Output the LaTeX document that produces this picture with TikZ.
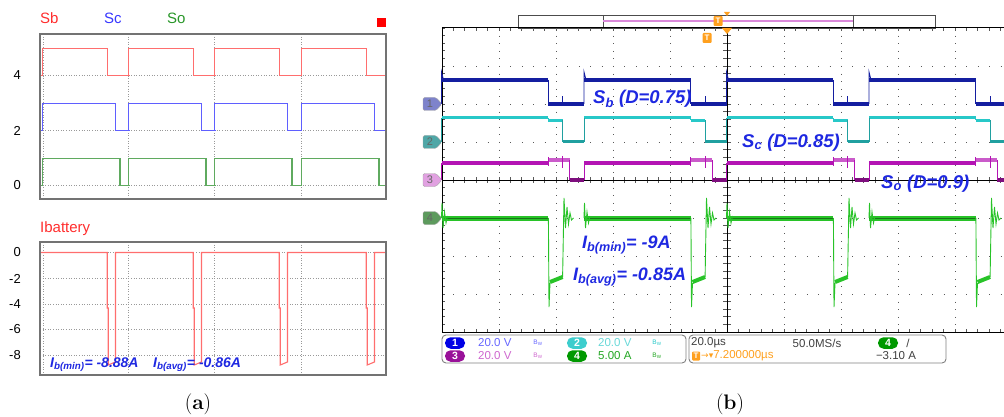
\documentclass[tikz,border=0pt]{standalone}
\usepackage{fontspec}
\newfontfamily\plotfont{Liberation Sans}
\newfontfamily\symfont{DejaVu Sans}

\definecolor{sbred}{RGB}{255,110,110}
\definecolor{scblue}{RGB}{95,95,255}
\definecolor{sogreen}{RGB}{95,170,95}
\definecolor{labred}{RGB}{255,45,45}
\definecolor{labblue}{RGB}{55,55,255}
\definecolor{labgreen}{RGB}{40,150,40}
\definecolor{noteblue}{RGB}{30,40,225}
\definecolor{chone}{RGB}{20,30,160}
\definecolor{chtwo}{RGB}{40,200,200}
\definecolor{chthree}{RGB}{180,20,180}
\definecolor{chfour}{RGB}{40,195,40}
\definecolor{trigorange}{RGB}{255,160,30}

\begin{document}
\begin{tikzpicture}[x=1pt, y=-1pt,
    framebox/.style={draw=black!55, line width=1.2pt},
    plotgrid/.style={draw=black!40, dotted, line width=0.6pt},
    ticklab/.style={anchor=east, font=\plotfont\fontsize{13}{15}\selectfont, inner sep=0pt},
    trace/.style={line width=1.1pt, line join=miter},
    note/.style={anchor=base west, inner sep=0pt, text=noteblue, font=\plotfont\bfseries\itshape\fontsize{#1}{#1}\selectfont},
    scopegrid/.style={draw=black!65, line width=0.8pt},
    band/.style={line width=#1},
    edge/.style={line width=0.9pt},
    tagnum/.style={text=black!60, font=\plotfont\fontsize{11}{11}\selectfont, inner sep=0pt},
    stat/.style={anchor=west, inner sep=0pt, font=\plotfont\fontsize{11.5}{11.5}\selectfont},
    badge/.style={fill=#1, text=white, rounded corners=5.5pt, minimum width=20pt, minimum height=11.5pt, inner sep=0pt, font=\plotfont\bfseries\fontsize{10.5}{10.5}\selectfont},
    bwmark/.style={inner sep=0pt, font=\plotfont\fontsize{6.5}{6.5}\selectfont},
    ttag/.style={fill=trigorange, text=white, rounded corners=1pt, minimum width=9pt, minimum height=10pt, inner sep=0pt, font=\plotfont\bfseries\fontsize{8}{8}\selectfont},
    caplab/.style={font=\fontsize{21}{24}\selectfont, inner sep=0pt}]
\useasboundingbox (0,0) rectangle (1004,417);

% ---------------- (a) simulation ----------------
\node[anchor=base west, inner sep=0pt, text=labred, font=\plotfont\fontsize{15}{15}\selectfont] (sblab) at (40,24) {Sb};
\node[anchor=base west, inner sep=0pt, text=labblue, font=\plotfont\fontsize{15}{15}\selectfont] (sclab) at (104,24) {Sc};
\node[anchor=base west, inner sep=0pt, text=labgreen, font=\plotfont\fontsize{15}{15}\selectfont] (solab) at (167,24) {So};
\fill[red] (377,18) rectangle (386,27);
\node[anchor=base west, inner sep=0pt, text=labred, font=\plotfont\fontsize{15}{15}\selectfont] (iblab) at (40,232) {Ibattery};

% grid
\foreach \x in {43.5,128.5,214.5,301.5}{
    \draw[plotgrid] (\x,34) -- (\x,199);
    \draw[plotgrid] (\x,242) -- (\x,375);
}
\foreach \y/\t in {75.5/4,130.5/2,185.5/0}{
    \draw[plotgrid] (40,\y) -- (386,\y);
    \node[ticklab] (tick\t) at (21,\y) {\t};
}
\foreach \y/\t [count=\i] in {252.5/0,278.5/-2,304.5/-4,329.5/-6,355.5/-8}{
    \draw[plotgrid] (40,\y) -- (386,\y);
    \node[ticklab] (itick\i) at (21,\y) {\t};
}

% gate signals
\begin{scope}
    \clip (40,34) rectangle (386,199);
    \draw[trace, sbred] (40,75.5) -- (42.5,75.5);
    \draw[trace, scblue] (40,130.5) -- (42.5,130.5);
    \draw[trace, sogreen] (40,185.5) -- (42.5,185.5);
    \foreach \p in {42.5,128.5,214.5,301.5}{
        \draw[trace, sbred] (\p,75.5) -- (\p,48.5) -- (\p+64.7,48.5) -- (\p+64.7,75.5) -- (\p+87,75.5);
        \draw[trace, scblue] (\p,130.5) -- (\p,103.5) -- (\p+73,103.5) -- (\p+73,130.5) -- (\p+87,130.5);
        \draw[trace, sogreen] (\p,185.5) -- (\p,158.5) -- (\p+77.5,158.5) -- (\p+77.5,185.5) -- (\p+87,185.5);
    }
\end{scope}

% battery current
\draw[trace, sbred] (40,252.5) \foreach \p in {42.5,128.5,214.5,301.5}{
    -- (\p+64.7,252.5) -- (\p+64.7,308) -- (\p+65.7,308) -- (\p+65.7,365) -- (\p+73,362) -- (\p+73,252.5)
} -- (386,252.5);

\draw[framebox] (40,34) rectangle (386,199);
\draw[framebox] (40,242) rectangle (386,375);

\node[note=14] (ibmina) at (50,367) {I\textsubscript{b(min)}= -8.88A};
\node[note=14] (ibavga) at (153,367) {I\textsubscript{b(avg)}= -0.86A};

\node[caplab] (capa) at (198,404) {(\textbf{a})};

% ---------------- (b) measurement ----------------
% top bar
\draw[black!70, line width=0.8pt] (518,15) rectangle (935,28);
\draw[black!70, line width=0.8pt] (603,15) -- (603,28);
\draw[black!70, line width=0.8pt] (853,15) -- (853,28);
\draw[chthree!50, line width=1.6pt] (603,21) -- (853,21);
\fill[trigorange] (724,12) -- (730,12) -- (727,16) -- cycle;
\node[ttag] (tbar) at (718,21) {T};

% screen grid
\foreach \x in {499,556,613,670,784,841,898,955}
    \draw[scopegrid, dash pattern=on 0.8pt off 6.8pt] (\x,28) -- (\x,332);
\foreach \y in {66,104,142,218,256,294}
    \draw[scopegrid, dash pattern=on 0.8pt off 10.6pt] (442,\y) -- (1004,\y);
\foreach \k in {0,...,49}{
    \draw[scopegrid] (442+11.4*\k,28) -- ++(0,3);
    \draw[scopegrid] (442+11.4*\k,332) -- ++(0,-3);
    \draw[scopegrid] (442+11.4*\k,177) -- ++(0,6);
}
\foreach \k in {0,...,40}{
    \draw[scopegrid] (442,28+7.6*\k) -- ++(3,0);
    \draw[scopegrid] (723,28+7.6*\k) -- ++(8,0);
}
\draw[black, line width=1pt] (1004,28) -- (442,28) -- (442,332) -- (1004,332);
\draw[black, line width=1pt] (727,28) -- (727,332);
\draw[black, line width=1pt] (442,180) -- (1004,180);

% traces
\begin{scope}
    \clip (441,28) rectangle (1004,332);
    \foreach \r in {441.5,584,726.5,869,1011.5}{
        % channel 1
        \draw[band=3.5pt, chone] (\r,80) -- (\r+106.9,80);
        \draw[band=3.5pt, chone] (\r+106.9,104) -- (\r+142.5,104);
        \draw[edge, chone] (\r,104) -- (\r,72) -- (\r+2,80);
        \draw[edge, chone] (\r+106.9,80) -- (\r+106.9,104);
        \draw[edge, chone] (\r+121.1,104) -- (\r+121.1,96);
        % channel 2
        \draw[band=3pt, chtwo] (\r,118) -- (\r+106.9,118);
        \draw[band=3pt, chtwo] (\r+106.9,120.5) -- (\r+121.1,120.5);
        \draw[band=3pt, chtwo!80!black] (\r+121.1,142) -- (\r+142.5,142);
        \draw[edge, chtwo!80!black] (\r,142) -- (\r,118);
        \draw[edge, chtwo] (\r+106.9,118) -- (\r+106.9,120.5);
        \draw[edge, chtwo!80!black] (\r+121.1,120.5) -- (\r+121.1,142);
        % channel 3
        \draw[band=3.5pt, chthree] (\r,163) -- (\r+106.9,163);
        \draw[band=3.5pt, chthree!70] (\r+106.9,160) -- (\r+128.3,160);
        \draw[band=3.5pt, chthree!70!black] (\r+128.3,180) -- (\r+142.5,180);
        \draw[edge, chthree] (\r,180) -- (\r,163);
        \draw[edge, chthree] (\r+106.9,157) -- (\r+106.9,166);
        \draw[edge, chthree] (\r+121.1,156) -- (\r+121.1,168);
        \draw[edge, chthree] (\r+128.3,160) -- (\r+128.3,180);
        % channel 4
        \draw[band=5pt, chfour] (\r,218) -- (\r+106.9,218);
        \draw[edge, chfour!60!black] (\r,218) -- (\r+106.9,218);
        \draw[edge, chfour] (\r,218) -- (\r+0.5,203) -- (\r+1.5,228) -- (\r+3,212) -- (\r+4.5,223) -- (\r+6,216);
        \draw[edge, chfour] (\r+106.9,218) -- (\r+107.5,307) -- (\r+108.5,283);
        \draw[band=4pt, chfour] (\r+108.5,282) -- (\r+121.1,277);
        \draw[edge, chfour] (\r+121.1,277) -- (\r+122.5,198) -- (\r+124,228) -- (\r+125.5,207) -- (\r+127,224) -- (\r+128.5,213) -- (\r+130,220) -- (\r+132,218);
    }
\end{scope}

% trigger marks on screen
\fill[trigorange] (722,28) -- (732,28) -- (727,34) -- cycle;
\node[ttag] (tscreen) at (707,38) {T};

% channel tags
\foreach \y/\n/\c in {104/1/chone!55!white,142/2/chtwo!55!gray,180/3/chthree!40!white,218/4/chfour!40!gray}{
    \draw[fill=\c, draw=black!35, rounded corners=1.5pt] (423,\y-6.5) -- (436,\y-6.5) -- (442,\y) -- (436,\y+6.5) -- (423,\y+6.5) -- cycle;
    \node[tagnum] (tag\n) at (430,\y) {\n};
}

% annotations
\node[note=18.5] (sbnote) at (593,104) {S\textsubscript{b} (D=0.75)};
\node[note=18.5] (scnote) at (742,147) {S\textsubscript{c} (D=0.85)};
\node[note=18.5] (sonote) at (881,188) {S\textsubscript{o} (D=0.9)};
\node[note=18] (ibminb) at (582,248) {I\textsubscript{b(min)}= -9A};
\node[note=18] (ibavgb) at (573,280) {I\textsubscript{b(avg)}= -0.85A};

% status bar
\draw[black!50, line width=0.9pt, rounded corners=4pt] (442,335) rectangle (686,363);
\draw[black!50, line width=0.9pt, rounded corners=4pt] (689,335) rectangle (946,363);
\node[badge=blue!90!black] (bone) at (455,343) {1};
\node[stat, text=blue!60] (vone) at (478,343) {20.0 V};
\node[bwmark, text=blue!60] (bwone) at (538,343) {B\textsubscript{W}};
\node[badge=chtwo!90!white] (btwo) at (577,343) {2};
\node[stat, text=chtwo!70!white] (vtwo) at (598,343) {20.0 V};
\node[bwmark, text=chtwo] (bwtwo) at (657,343) {B\textsubscript{W}};
\node[badge=chthree!85!black] (bthree) at (455,356) {3};
\node[stat, text=chthree!65] (vthree) at (478,356) {20.0 V};
\node[bwmark, text=chthree!65] (bwthree) at (538,356) {B\textsubscript{W}};
\node[badge=green!60!black] (bfour) at (577,356) {4};
\node[stat, text=chfour!85!black] (vfour) at (598,356) {5.00 A};
\node[bwmark, text=chfour!85!black] (bwfour) at (657,356) {B\textsubscript{W}};
\node[stat, text=black!75] (tdiv) at (691,343) {20.0µs};
\node[stat, anchor=center, text=black!75] (srate) at (817,343) {50.0MS/s};
\node[badge=green!60!black] (btrig) at (888,343) {4};
\node[stat, anchor=center, text=black!75] (slope) at (908,343) {/};
\node[ttag, minimum width=8pt, minimum height=9pt] (tstat) at (696,356) {T};
\node[stat, text=trigorange] (tdelay) at (701,356) {{\symfont\fontsize{9}{9}\selectfont →▾}7.200000µs};
\node[stat, anchor=center, text=black!75] (tlevel) at (896,356) {−3.10 A};

\node[caplab] (capb) at (730,404) {(\textbf{b})};
\end{tikzpicture}
\end{document}
